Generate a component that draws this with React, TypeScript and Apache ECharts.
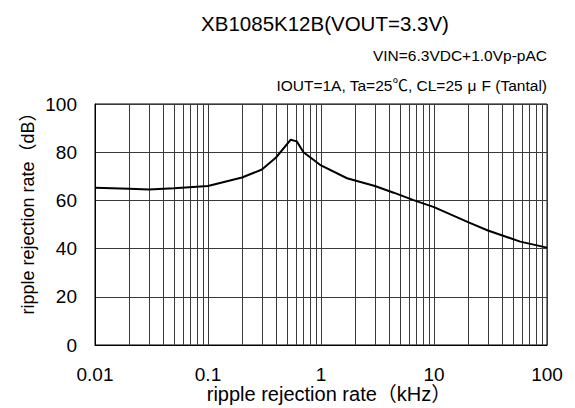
import React, { useEffect, useRef } from "react";
import * as echarts from "echarts";

const titleText = "XB1085K12B(VOUT=3.3V)";
const subText1 = "VIN=6.3VDC+1.0Vp-pAC";
const subText2 = "IOUT=1A, Ta=25℃, CL=25{mu|μ}F (Tantal)";
const xAxisName = "ripple rejection rate（kHz）";
const yAxisName = "ripple rejection rate（dB）";

const freqKHz = [0.01, 0.02, 0.03, 0.05, 0.1, 0.2, 0.3, 0.4, 0.54, 0.61, 0.7, 1.0, 1.7, 3.0, 4.4, 6.5, 10, 20, 30, 58, 100];
const rejectionDB = [65.2, 64.8, 64.5, 65.0, 66.0, 69.5, 72.8, 77.8, 85.2, 84.5, 80.0, 74.5, 69.2, 66.0, 63.2, 60.2, 57.2, 51.0, 47.5, 42.9, 40.4];

const xTickLabels = ["0.01", "0.1", "1", "10", "100"];
const xMinorGrid = [
  0.02, 0.03, 0.04, 0.05, 0.06, 0.07, 0.08, 0.09,
  0.2, 0.3, 0.4, 0.5, 0.6, 0.7, 0.8, 0.9,
  2, 3, 4, 5, 6, 7, 8, 9,
  20, 30, 40, 50, 60, 70, 80, 90,
];

const FONT = "'Liberation Sans', Arial, 'Noto Sans CJK JP', sans-serif";
const GRID_COLOR = "#3a3a3a";

export default function App() {
  const ref = useRef<HTMLDivElement>(null);
  useEffect(() => {
    if (!ref.current) return;
    const chart = echarts.init(ref.current, null, { renderer: "svg" });
    chart.setOption({
      animation: false,
      backgroundColor: "#ffffff",
      grid: {
        left: 95,
        right: 28,
        top: 104,
        bottom: 63,
        show: true,
        borderColor: "#000",
        borderWidth: 1,
      },
      graphic: [
        {
          type: "text",
          x: 325,
          y: 23,
          style: { text: titleText, align: "center", verticalAlign: "middle", font: `20.5px ${FONT}`, fill: "#000" },
        },
        {
          type: "text",
          x: 547,
          y: 55,
          style: { text: subText1, align: "right", verticalAlign: "middle", font: `15.5px ${FONT}`, fill: "#000" },
        },
        {
          type: "text",
          x: 547,
          y: 85,
          style: {
            text: subText2,
            align: "right",
            verticalAlign: "middle",
            font: `15.5px ${FONT}`,
            fill: "#000",
            rich: { mu: { font: `15.5px ${FONT}`, fill: "#000", padding: [0, 5, 0, 5] } },
          },
        },
        {
          type: "text",
          x: 329,
          y: 394,
          style: { text: xAxisName, align: "center", verticalAlign: "middle", font: `20px ${FONT}`, fill: "#000" },
        },
        {
          type: "text",
          x: 28,
          y: 209,
          rotation: Math.PI / 2,
          style: { text: yAxisName, align: "center", verticalAlign: "middle", font: `18px ${FONT}`, fill: "#000" },
        },
      ],
      xAxis: {
        type: "log",
        logBase: 10,
        min: 0.01,
        max: 100,
        axisLine: { show: true, lineStyle: { color: "#000", width: 1 } },
        axisTick: { show: false },
        axisLabel: {
          margin: 20,
          fontSize: 19,
          fontFamily: FONT,
          color: "#000",
          formatter: (v: number) => xTickLabels[Math.round(Math.log10(v)) + 2] ?? "",
        },
        splitLine: { show: true, lineStyle: { color: GRID_COLOR, width: 1 } },
      },
      yAxis: {
        type: "value",
        min: 0,
        max: 100,
        interval: 20,
        axisLine: { show: true, lineStyle: { color: "#000", width: 1 } },
        axisTick: { show: false },
        axisLabel: { margin: 18, fontSize: 19, fontFamily: FONT, color: "#000" },
        splitLine: { show: true, lineStyle: { color: GRID_COLOR, width: 1 } },
      },
      series: [
        {
          type: "line",
          data: freqKHz.map((f, i) => [f, rejectionDB[i]]),
          showSymbol: false,
          smooth: false,
          lineStyle: { color: "#000", width: 2 },
          z: 5,
          markLine: {
            silent: true,
            symbol: "none",
            label: { show: false },
            lineStyle: { color: GRID_COLOR, width: 1, type: "solid" },
            data: xMinorGrid.map((v) => ({ xAxis: v })),
            z: 1,
          },
        },
      ],
    });
    return () => chart.dispose();
  }, []);
  return <div ref={ref} style={{ width: 575, height: 408, position: "absolute", left: 0, top: 0 }} />;
}
